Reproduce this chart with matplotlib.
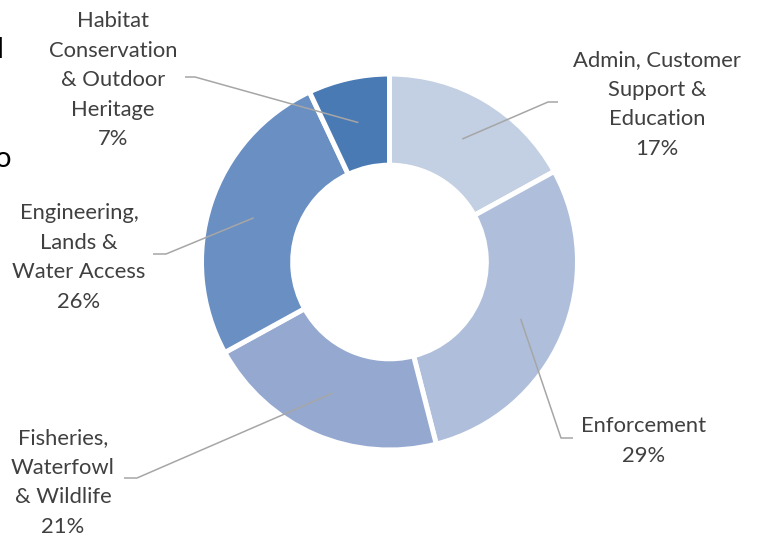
import matplotlib
matplotlib.use("Agg")
import matplotlib.pyplot as plt
import numpy as np

categories = ["Admin, Customer\nSupport &\nEducation", "Enforcement",
              "Fisheries,\nWaterfowl\n& Wildlife", "Engineering,\nLands &\nWater Access",
              "Habitat\nConservation\n& Outdoor\nHeritage"]
values = [17, 29, 21, 26, 7]
colors = ["#C3CFE2", "#AFBFDB", "#95A9D0", "#6A8FC3", "#4A7AB4"]

W, H = 759, 534
fig = plt.figure(figsize=(W / 100, H / 100), dpi=100)
ax = fig.add_axes([0, 0, 1, 1])

cx, cy, R = 389.5, H - 262, 188
wedges, _ = ax.pie(values, colors=colors, startangle=90, counterclock=False,
                   center=(cx, cy), radius=R, frame=True,
                   wedgeprops=dict(width=R * 0.485, edgecolor="white", linewidth=3.6))
ax.set_xlim(0, W)
ax.set_ylim(0, H)
ax.set_aspect("equal")
ax.axis("off")

font = "Lato"
tcol = "#404040"
lcol = "#A6A6A6"
# (elbow point, line end point, text center x, first-line center y) in image pixels
layout = [
    ((548, 102), (558, 102), 657, 59),
    ((561, 438), (573, 438), 644, 425),
    ((137, 478), (124, 478), 63, 437),
    ((166, 254), (153, 254), 79, 212),
    ((195, 77), (185, 77), 113, 20),
]
for w, v, cat, (elb, end, tx, ty) in zip(wedges, values, categories, layout):
    mid = np.deg2rad((w.theta1 + w.theta2) / 2)
    ax_ = cx + 0.76 * R * np.cos(mid)
    ay_ = cy + 0.76 * R * np.sin(mid)
    ax.plot([ax_, elb[0], end[0]], [ay_, H - elb[1], H - end[1]],
            color=lcol, lw=1.1, solid_capstyle="butt")
    ax.text(tx, H - (ty - 9), f"{cat}\n{v}%", ha="center", va="top", color=tcol,
            fontsize=15.8, family=font, linespacing=1.6)

# fragments of neighbouring slide text cut off at the left edge
fig.text(-3 / W, 1 - 58 / H, "l", ha="left", va="baseline", fontsize=21,
         family=font, color="black")
fig.text(-5 / W, 1 - 167 / H, "o", ha="left", va="baseline", fontsize=21,
         family=font, color="black")

fig.savefig("out.png", dpi=100)
